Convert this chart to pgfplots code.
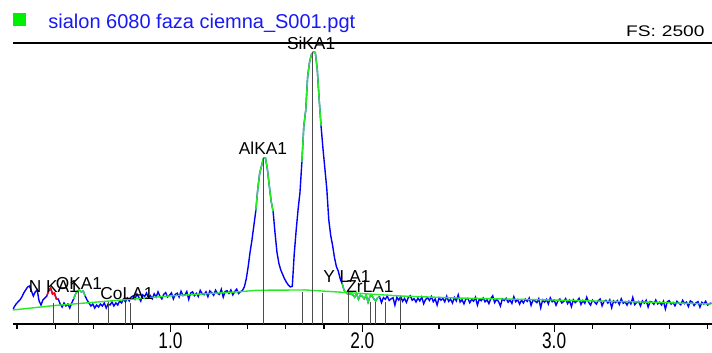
\documentclass[border=0pt]{standalone}
\usepackage{pgfplots}
\pgfplotsset{compat=1.18}
\usepackage{graphicx}
\usepackage{fontspec}
\setmainfont{Liberation Sans}
\definecolor{specblue}{RGB}{0,0,255}
\definecolor{specgreen}{RGB}{40,235,40}
\definecolor{specred}{RGB}{255,0,0}
\definecolor{titleblue}{RGB}{25,25,245}
\definecolor{sqgreen}{RGB}{0,240,0}
\newcommand\lbl{\fontsize{8.65}{10}\selectfont}
\begin{document}
\begin{tikzpicture}
\path[use as bounding box] (-6.5pt,-14.5pt) rectangle (349.5pt,162pt);
\begin{axis}[
  at={(0,0)}, anchor=south west,
  scale only axis, width=349.5pt, height=140.5pt,
  xmin=0.179, xmax=3.823, ymin=0, ymax=2500,
  axis y line=none, axis x line*=bottom,
  x axis line style={line width=1pt, black},
  xtick={1,2,3}, xticklabels={\scalebox{1}[1.3]{1.0},\scalebox{1}[1.3]{2.0},\scalebox{1}[1.3]{3.0}},
  minor xtick={0.2,0.4,0.6,0.8,1.2,1.4,1.6,1.8,2.2,2.4,2.6,2.8,3.2,3.4,3.6,3.8},
  tick align=outside,
  major tick length=4pt, minor tick length=2.4pt,
  every tick/.style={black, line width=0.6pt},
  xticklabel style={font=\lbl, yshift=3pt},
  clip=false,
]
% measured spectrum (blue)
\addplot[specblue, line width=0.7pt, no marks] coordinates {
(0.18,130)(0.185,151)(0.195,178)(0.205,196)(0.215,214)(0.225,240)(0.235,276)(0.245,303)(0.255,329)(0.265,338)(0.275,294)(0.285,249)(0.295,285)(0.305,303)(0.315,205)(0.325,169)(0.335,214)(0.345,231)(0.355,249)(0.365,294)(0.375,320)(0.385,267)(0.395,276)(0.405,222)(0.415,222)(0.425,178)(0.435,151)(0.445,187)(0.455,160)(0.465,178)(0.475,142)(0.485,187)(0.495,222)(0.505,267)(0.515,294)(0.525,303)(0.535,285)(0.545,294)(0.555,249)(0.565,214)(0.575,187)(0.585,160)(0.595,178)(0.605,142)(0.615,169)(0.625,151)(0.635,178)(0.645,160)(0.655,187)(0.665,142)(0.675,178)(0.685,169)(0.695,196)(0.705,160)(0.715,187)(0.725,169)(0.735,205)(0.745,187)(0.755,222)(0.765,196)(0.775,231)(0.785,205)(0.795,240)
(0.805,250)(0.815,221)(0.825,267)(0.835,238)(0.845,204)(0.855,260)(0.865,245)(0.875,276)(0.885,232)(0.895,253)(0.905,224)(0.915,269)(0.925,240)(0.935,286)(0.945,247)(0.955,223)(0.965,264)(0.975,279)(0.985,240)(0.995,256)(1.005,277)(1.015,223)(1.025,264)(1.035,274)(1.045,240)(1.055,291)(1.065,252)(1.075,258)(1.085,289)(1.095,219)(1.105,275)(1.115,286)(1.125,252)(1.135,273)(1.145,244)(1.155,299)(1.165,270)(1.175,261)(1.185,287)(1.195,243)(1.205,294)(1.215,279)(1.225,255)(1.235,301)(1.245,272)(1.255,263)(1.265,309)(1.275,239)(1.285,290)(1.295,296)(1.305,272)(1.315,303)(1.325,259)(1.335,289)(1.345,310)(1.355,271)(1.365,287)(1.375,298)
(1.385,330)(1.395,400)(1.405,510)(1.415,640)(1.425,750)(1.435,880)(1.445,1010)(1.455,1200)(1.465,1340)(1.475,1410)(1.485,1475)(1.495,1478)(1.505,1380)(1.515,1230)(1.525,1090)(1.535,1000)(1.545,810)(1.555,640)(1.565,540)(1.575,480)(1.585,440)(1.595,400)(1.605,370)(1.615,345)(1.625,330)(1.635,335)(1.645,620)(1.655,830)(1.665,1015)(1.675,1170)(1.685,1440)(1.695,1760)(1.705,1900)(1.715,2200)(1.725,2330)(1.735,2400)(1.745,2420)(1.755,2415)(1.765,2270)(1.775,2000)(1.785,1760)(1.795,1560)(1.805,1380)(1.815,1200)(1.825,930)(1.835,790)(1.845,700)(1.855,590)(1.865,510)(1.875,470)(1.885,400)(1.895,360)(1.905,300)(1.915,280)(1.925,265)(1.935,268)
(1.95,260)(1.96,238)(1.97,271)(1.98,219)(1.99,257)(2.00,245)(2.01,223)(2.02,256)(2.03,194)(2.04,247)(2.05,255)(2.06,223)(2.07,206)(2.08,234)(2.09,242)(2.10,190)(2.11,235)(2.12,220)(2.13,249)(2.14,209)(2.15,224)(2.16,234)(2.17,168)(2.18,238)(2.19,213)(2.20,243)(2.21,202)(2.22,227)(2.23,192)(2.24,237)(2.25,251)(2.26,211)(2.27,226)(2.28,196)(2.29,230)(2.30,205)(2.31,240)(2.32,180)(2.33,219)(2.34,234)(2.35,209)(2.36,244)(2.37,198)(2.38,223)(2.39,168)(2.40,233)(2.41,212)(2.42,227)(2.43,197)(2.44,247)(2.45,201)(2.46,221)(2.47,186)(2.48,236)(2.49,205)(2.50,260)(2.51,195)(2.52,215)(2.53,179)(2.54,224)(2.55,229)(2.56,189)(2.57,218)(2.58,203)(2.59,238)(2.60,168)(2.61,222)(2.62,207)(2.63,232)(2.64,197)(2.65,216)(2.66,181)(2.67,226)(2.68,251)(2.69,190)(2.70,220)(2.71,200)(2.72,160)(2.73,224)(2.74,209)(2.75,229)(2.76,194)(2.77,213)(2.78,183)(2.79,243)(2.80,198)(2.81,217)(2.82,177)(2.83,212)(2.84,187)(2.85,221)(2.86,201)(2.87,231)(2.88,166)(2.89,215)(2.90,205)(2.91,190)(2.92,225)(2.93,144)(2.94,214)(2.95,194)(2.96,219)(2.97,178)(2.98,233)(2.99,198)(3.00,213)(3.01,167)(3.02,207)(3.03,222)(3.04,187)(3.05,201)(3.06,226)(3.07,181)(3.08,211)(3.09,155)(3.10,215)(3.11,190)(3.12,205)(3.13,229)(3.14,174)(3.15,209)(3.16,184)(3.17,238)(3.18,193)(3.19,168)(3.20,213)(3.21,197)(3.22,177)(3.23,207)(3.24,222)(3.25,161)(3.26,201)(3.27,211)(3.28,186)(3.29,215)(3.30,145)(3.31,205)(3.32,190)(3.33,209)(3.34,174)(3.35,224)(3.36,184)(3.37,198)(3.38,168)(3.39,203)(3.40,178)(3.41,237)(3.42,172)(3.43,192)(3.44,202)(3.45,161)(3.46,206)(3.47,186)(3.48,211)(3.49,150)(3.50,200)(3.51,195)(3.52,175)(3.53,214)(3.54,179)(3.55,194)(3.56,169)(3.57,203)(3.58,133)(3.59,198)(3.60,208)(3.61,177)(3.62,192)(3.63,162)(3.64,202)(3.65,186)(3.66,171)(3.67,211)(3.68,181)(3.69,195)(3.70,155)(3.71,205)(3.72,195)(3.73,164)(3.74,189)(3.75,199)(3.76,149)(3.77,193)(3.78,178)(3.79,203)(3.80,168)(3.81,182)(3.82,187)
};
% background fit (green)
\addplot[specgreen, line width=0.7pt, no marks] coordinates {
(0.18,125)(0.4,165)(0.75,214)(1.0,250)(1.36,287)(1.45,300)(1.70,303)(1.87,285)(2.2,249)(2.5,231)(3.0,213)(3.5,194)(3.82,178)
};
% ROI segments (green)
\addplot[specgreen, line width=0.7pt, no marks] coordinates {
(0.495,222)(0.505,267)(0.515,294)(0.525,303)(0.535,285)(0.545,294)(0.555,249)
};
\addplot[specgreen, line width=0.7pt, no marks] coordinates {
(1.445,1010)(1.455,1200)(1.465,1340)(1.475,1410)(1.485,1475)(1.495,1478)(1.505,1380)(1.515,1230)(1.525,1090)(1.535,1000)
};
\addplot[specgreen, line width=0.7pt, no marks] coordinates {
(1.685,1440)(1.695,1760)(1.705,1900)(1.715,2200)(1.725,2330)(1.735,2400)(1.745,2420)(1.755,2415)(1.765,2270)(1.775,2000)(1.785,1760)
};
\addplot[specgreen, line width=0.7pt, no marks] coordinates {
(1.895,360)(1.905,300)(1.915,280)(1.925,265)(1.935,268)(1.95,260)(1.96,238)(1.97,271)(1.98,219)(1.99,257)(2.00,245)(2.01,223)(2.02,256)(2.03,194)(2.04,247)(2.05,255)(2.06,223)(2.07,206)(2.08,234)(2.09,242)
};
% N region (red)
\addplot[specred, line width=0.7pt, no marks] coordinates {
(0.355,249)(0.365,294)(0.375,320)(0.385,267)(0.395,276)(0.405,222)(0.415,222)
};
% line markers
\addplot[ycomb, black!70, line width=0.5pt, no marks] coordinates {
(0.392,190)(0.523,290)(0.677,196)(0.768,187)(0.789,187)(1.487,1477)(1.686,285)(1.740,2420)(1.790,276)(1.927,303)(2.045,196)(2.071,196)(2.123,196)(2.199,240)
};
\node[anchor=base, font=\lbl] at (axis cs:1.733,2438) {SiKA1};
\node[anchor=base, font=\lbl] at (axis cs:1.482,1504) {AlKA1};
\node[anchor=base, font=\lbl] at (axis cs:1.920,365) {Y LA1};
\node[anchor=base, font=\lbl] at (axis cs:2.040,276) {ZrLA1};
\node[anchor=base, font=\lbl] at (axis cs:0.773,214) {CoLA1};
\node[anchor=base, font=\lbl] at (axis cs:0.392,276) {N KA1};
\node[anchor=base, font=\lbl] at (axis cs:0.523,311) {OKA1};
\draw[black, line width=1.3pt] (rel axis cs:0,1) -- (rel axis cs:1,1);
\end{axis}
\fill[sqgreen] (0,149pt) rectangle (6.5pt,155.5pt);
\node[anchor=base west, inner sep=0pt, font=\fontsize{10}{12}\selectfont, text=titleblue] at (17.5pt,147.75pt) {sialon 6080 faza ciemna\_S001.pgt};
\node[anchor=base east, inner sep=0pt, font=\fontsize{9.6}{11}\selectfont] at (346pt,143.5pt) {\scalebox{1}[0.8]{FS:\hspace{3pt}2500}};
\end{tikzpicture}
\end{document}
